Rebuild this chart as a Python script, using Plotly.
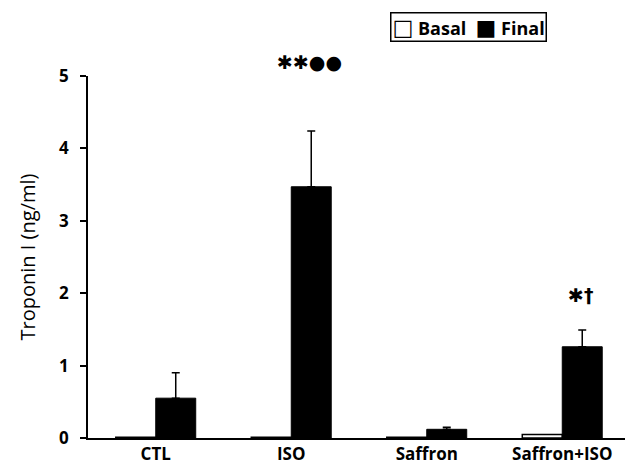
import plotly.graph_objects as go

categories = ["CTL", "ISO", "Saffron", "Saffron+ISO"]
basal = [0.01, 0.01, 0.01, 0.05]
final = [0.55, 3.47, 0.12, 1.26]
final_err = [0.35, 0.77, 0.03, 0.23]
y_ticks = [0, 1, 2, 3, 4, 5]

FONT = "Open Sans"

fig = go.Figure()
fig.add_trace(go.Bar(
    name="Basal", x=categories, y=basal,
    marker=dict(color="white", line=dict(color="black", width=1.5)),
))
fig.add_trace(go.Bar(
    name="Final", x=categories, y=final,
    marker=dict(color="black", line=dict(color="black", width=1)),
    error_y=dict(type="data", array=final_err, symmetric=False,
                 arrayminus=[0] * len(final_err),
                 color="black", thickness=1.5, width=4),
))

# significance marks
fig.add_annotation(x=categories[1], y=1.04, xref="x", yref="paper", text="✱✱●●",
                   showarrow=False, xshift=18, yanchor="middle",
                   font=dict(size=19, color="black", family="DejaVu Sans", weight="bold"))
fig.add_annotation(x=categories[3], y=1.98, xref="x", yref="y", text="✱†",
                   showarrow=False, xshift=18,
                   font=dict(size=19, color="black", family="DejaVu Sans", weight="bold"))

# legend box
fig.add_annotation(x=0.557, y=1.178, xref="paper", yref="paper", xanchor="left", yanchor="top",
                   text="<span style='font-size:22px;font-family:DejaVu Sans'>□</span> Basal  "
                        "<span style='font-size:22px;font-family:DejaVu Sans'>■</span> Final",
                   showarrow=False,
                   bordercolor="black", borderwidth=1.5, borderpad=1, bgcolor="white",
                   font=dict(size=18, color="black", family=FONT, weight="bold"))

fig.update_layout(
    width=625, height=459,
    margin=dict(l=80, r=3, t=68, b=29),
    plot_bgcolor="white", paper_bgcolor="white",
    barmode="group", bargap=0.41, bargroupgap=0,
    font=dict(family=FONT, color="black"),
    showlegend=False,
    xaxis=dict(showline=True, linecolor="black", linewidth=1.5, ticks="",
               automargin=False,
               tickfont=dict(size=17, family=FONT, color="black", weight="bold"),
               showgrid=False),
    yaxis=dict(range=[0, 5], tickvals=y_ticks, showline=True, linecolor="black",
               linewidth=1.5, ticks="outside", ticklen=6, tickwidth=1.5,
               tickcolor="black", showgrid=False, zeroline=False,
               ticklabelstandoff=8, automargin=False,
               tickfont=dict(size=17, family=FONT, color="black", weight="bold"),
               title=dict(text="Troponin I (ng/ml)", standoff=18,
                          font=dict(size=20, family=FONT, color="black"))),
)

fig.write_html("out.html")
